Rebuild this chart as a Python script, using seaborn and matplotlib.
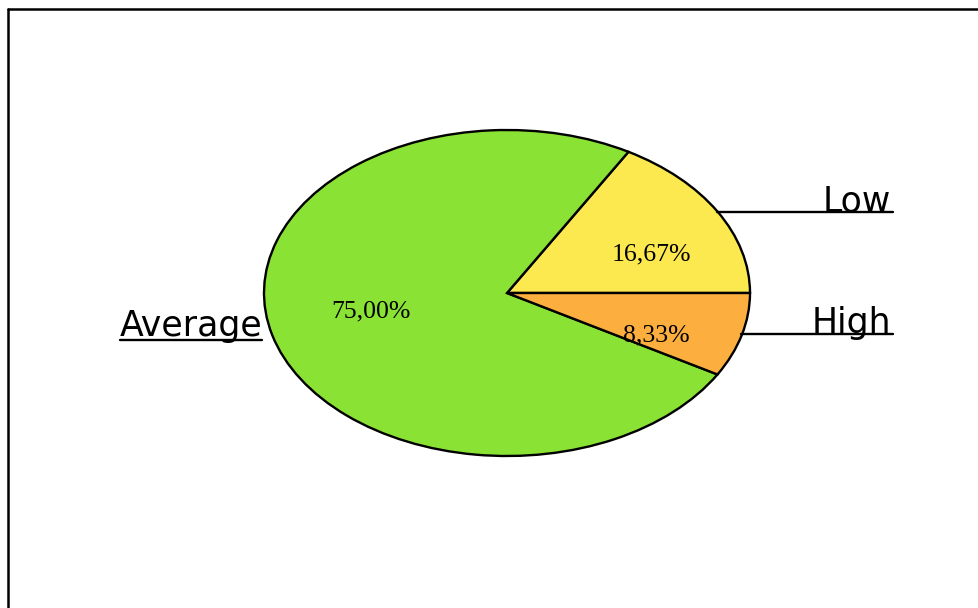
import matplotlib
matplotlib.use("Agg")
import matplotlib.pyplot as plt
import seaborn as sns
from matplotlib.lines import Line2D

# ---- data ----
categories = ["Low", "Average", "High"]
values = [16.67, 75.00, 8.33]
pct_labels = ["16,67%", "75,00%", "8,33%"]

sns.set_theme(style="white")
plt.rcParams["font.family"] = ["DejaVu Sans"]
colors = sns.color_palette(["#FCE94F", "#8AE234", "#FCAF3E"])

W, H = 979, 608
fig = plt.figure(figsize=(W / 100, H / 100), dpi=100)
fig.patch.set_facecolor("white")

# axes so that radius 1 -> rx=243px, ry=163px, centre at (507, 293)
cx, cy, rx, ry = 507, 293, 243, 163
ax = fig.add_axes([(cx - rx) / W, (H - (cy + ry)) / H, 2 * rx / W, 2 * ry / H])
ax.pie(values, colors=colors, startangle=0, counterclock=True,
       wedgeprops=dict(edgecolor="black", linewidth=1.7))
ax.set_aspect("auto")
ax.set_xlim(-1, 1)
ax.set_ylim(-1, 1)
ax.axis("off")

def d(px, py):
    return (px - cx) / rx, (cy - py) / ry

# percentage labels
pct_pos = [(651, 254), (371, 311), (656, 335)]
for lab, (px, py) in zip(pct_labels, pct_pos):
    x, y = d(px, py)
    ax.text(x, y, lab, ha="center", va="center", fontsize=18.5,
            family=["Liberation Serif", "DejaVu Serif"], color="black", clip_on=False)

# category labels with leader lines / underlines
lab_fs = 25
x0, y0 = d(717, 212)
x1, _ = d(893, 212)
ax.add_line(Line2D([x0, x1], [y0, y0], color="black", lw=1.7, clip_on=False))
ax.text(d(891, 211)[0], d(891, 211)[1], categories[0], ha="right", va="baseline",
        fontsize=lab_fs, color="black", clip_on=False)

x0, y0 = d(741, 334)
x1, _ = d(893, 334)
ax.add_line(Line2D([x0, x1], [y0, y0], color="black", lw=1.7, clip_on=False))
ax.text(d(891, 333)[0], d(891, 333)[1], categories[2], ha="right", va="baseline",
        fontsize=lab_fs, color="black", clip_on=False)

xa0, ya = d(120, 340)
xa1, _ = d(262, 340)
ax.add_line(Line2D([xa0, xa1], [ya, ya], color="black", lw=1.7, clip_on=False))
ax.text(d(120, 336)[0], d(120, 336)[1], categories[1], ha="left", va="baseline",
        fontsize=lab_fs, color="black", clip_on=False)

# outer frame (left and top edges visible)
fig.add_artist(Line2D([8 / W, 8 / W], [0, 1 - 9 / H], color="black", lw=1.8,
                      transform=fig.transFigure))
fig.add_artist(Line2D([8 / W, 1.0], [1 - 9 / H, 1 - 9 / H], color="black", lw=1.8,
                      transform=fig.transFigure))

fig.savefig("out.png", dpi=100, facecolor="white")
